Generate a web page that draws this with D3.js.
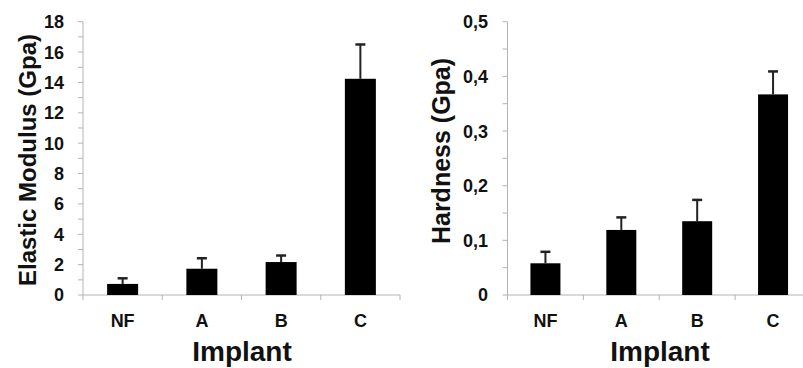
<!DOCTYPE html>
<html><head><meta charset="utf-8">
<script src="https://cdn.jsdelivr.net/npm/d3@7"></script>
<style>body{margin:0;background:#fff;} svg{display:block;} text{font-family:"Liberation Sans",Arial,sans-serif;font-weight:bold;fill:#111;}</style>
</head><body><svg id="c" width="803" height="368"></svg>
<script>
const categories = ["NF","A","B","C"];
const modulusValues = [0.73, 1.73, 2.17, 14.24];
const modulusErrors = [0.37, 0.69, 0.43, 2.26];
const hardnessValues = [0.058, 0.119, 0.135, 0.367];
const hardnessErrors = [0.021, 0.023, 0.039, 0.042];
const modulusTicks = [0,2,4,6,8,10,12,14,16,18];
const hardnessTicks = [0,0.1,0.2,0.3,0.4,0.5];

const svg = d3.select("#c");
const fmtComma = d => d===0 ? "0" : d3.format(".1f")(d).replace(".", ",");

function panel(o){
  const g = svg.append("g");
  const x = d3.scaleBand().domain(categories).range([o.x0, o.x1]).paddingInner(0).paddingOuter(0);
  const y = d3.scaleLinear().domain([0, o.max]).range([295, 21.7]);
  const axisColor = "#b4b4b4";
  g.selectAll(".minor").data(d3.range(0, o.max + o.minor/2, o.minor)).join("line")
    .attr("x1", o.x0-5).attr("x2", o.x0).attr("y1", d=>y(d)).attr("y2", d=>y(d))
    .attr("stroke", axisColor).attr("stroke-width", 1);
  g.append("line").attr("x1", o.x0).attr("x2", o.x0).attr("y1", y(0)).attr("y2", y(o.max))
    .attr("stroke", axisColor).attr("stroke-width", 1);
  g.append("line").attr("x1", o.x0).attr("x2", o.x1).attr("y1", y(0)).attr("y2", y(0))
    .attr("stroke", axisColor).attr("stroke-width", 1);
  const bounds = categories.map(c => x(c)).concat([o.x1]);
  g.selectAll(".xt").data(bounds).join("line")
    .attr("x1", d=>d).attr("x2", d=>d).attr("y1", y(0)).attr("y2", y(0)+5)
    .attr("stroke", axisColor).attr("stroke-width", 1);
  g.selectAll(".yl").data(o.ticks).join("text")
    .attr("x", o.labelX).attr("y", d=>y(d)).attr("dy", "0.36em")
    .attr("text-anchor", "end").attr("font-size", 18).text(o.fmt);
  const bw = o.bw;
  g.selectAll(".bar").data(categories).join("rect")
    .attr("x", (c)=>x(c)+x.bandwidth()/2 - bw/2).attr("width", bw)
    .attr("y", (c,i)=>y(o.values[i])).attr("height", (c,i)=>y(0)-y(o.values[i]))
    .attr("fill", "#000");
  g.selectAll(".err").data(categories).join("line")
    .attr("x1", c=>x(c)+x.bandwidth()/2).attr("x2", c=>x(c)+x.bandwidth()/2)
    .attr("y1", (c,i)=>y(o.values[i])).attr("y2", (c,i)=>y(o.values[i]+o.errors[i]))
    .attr("stroke", "#222").attr("stroke-width", 2);
  g.selectAll(".cap").data(categories).join("line")
    .attr("x1", c=>x(c)+x.bandwidth()/2-5).attr("x2", c=>x(c)+x.bandwidth()/2+5)
    .attr("y1", (c,i)=>y(o.values[i]+o.errors[i])).attr("y2", (c,i)=>y(o.values[i]+o.errors[i]))
    .attr("stroke", "#222").attr("stroke-width", 2.5);
  g.selectAll(".xl").data(categories).join("text")
    .attr("x", c=>x(c)+x.bandwidth()/2).attr("y", 327)
    .attr("text-anchor", "middle").attr("font-size", 18).text(c=>c);
  g.append("text").attr("x", o.titleX).attr("y", 361)
    .attr("text-anchor", "middle").attr("font-size", 28).text("Implant");
  g.append("text").attr("transform", `translate(${o.yTitleX},${o.yTitleY}) rotate(-90)`)
    .attr("text-anchor", "middle").attr("font-size", o.yTitleSize).text(o.yTitle);
}

panel({x0:83, x1:400, max:18, minor:1, ticks:modulusTicks, fmt:d=>d, labelX:64, bw:31,
  values:modulusValues, errors:modulusErrors, titleX:242, yTitle:"Elastic Modulus (Gpa)", yTitleSize:24, yTitleX:36, yTitleY:160});
panel({x0:507.5, x1:811, max:0.5, minor:0.05, ticks:hardnessTicks, fmt:fmtComma, labelX:488, bw:30,
  values:hardnessValues, errors:hardnessErrors, titleX:660, yTitle:"Hardness (Gpa)", yTitleSize:25, yTitleX:450, yTitleY:151});
</script></body></html>
